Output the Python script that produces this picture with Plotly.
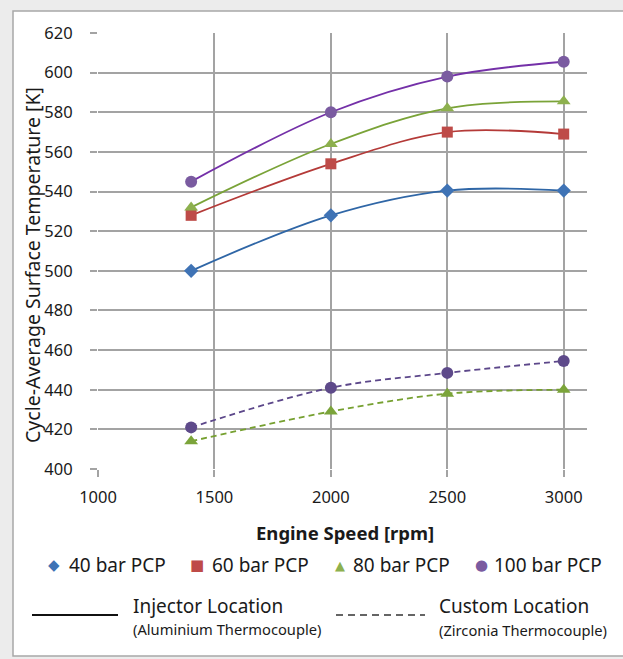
import plotly.graph_objects as go

speed = [1400, 2000, 2500, 3000]

inj_40 = [500, 528, 540.5, 540.5]
inj_60 = [528, 554, 570, 569]
inj_80 = [532, 564, 582, 585.5]
inj_100 = [545, 580, 598, 605.5]

cus_80 = [414, 429, 438, 440]
cus_100 = [421, 441, 448.5, 454.5]

legend_labels = ["40 bar PCP", "60 bar PCP", "80 bar PCP", "100 bar PCP"]
x_ticks = [1000, 1500, 2000, 2500, 3000]
y_ticks = list(range(400, 621, 20))

FONT = "Noto Sans"

fig = go.Figure()

def add(y, line_col, mk_col, symbol, size, dash="solid"):
    fig.add_trace(go.Scatter(
        x=speed, y=y, mode="lines+markers",
        line=dict(color=line_col, width=1.8, shape="spline", smoothing=1.0, dash=dash),
        marker=dict(color=mk_col, symbol=symbol, size=size, line=dict(width=0)),
        showlegend=False, hoverinfo="x+y"))

add(inj_40, "#2F66A6", "#3F73B5", "diamond", 11)
add(inj_60, "#B43A38", "#BE4B48", "square", 11)
add(inj_80, "#7AA338", "#8DB04E", "triangle-up", 12)
add(inj_100, "#7430A8", "#7A5BA0", "circle", 12)
add(cus_80, "#76A030", "#7BA43A", "triangle-up", 12, dash="6px,4px")
add(cus_100, "#5C478A", "#5E4A8A", "circle", 12, dash="6px,4px")

L, R, T, B = 98, 36, 33, 190
W, H = 623, 659
pw, ph = W - L - R, H - T - B

def px(x):
    return (x - L) / pw

def py(y):
    return (H - B - y) / ph

grid = "#a3a3a3"
fig.update_xaxes(range=[1000, 3100], tickvals=x_ticks, showgrid=True, gridcolor=grid,
                 gridwidth=2, ticks="outside", ticklen=7, tickcolor=grid, tickwidth=2,
                 showline=False, zeroline=False, ticklabelstandoff=6,
                 tickfont=dict(family=FONT, size=16.5, color="#1a1a1a"))
fig.update_yaxes(range=[400, 620], tickvals=y_ticks, showgrid=True, gridcolor=grid,
                 gridwidth=2, ticks="outside", ticklen=7, tickcolor=grid, tickwidth=2,
                 showline=False, zeroline=False, ticklabelstandoff=14,
                 tickfont=dict(family=FONT, size=16.5, color="#1a1a1a"))

shapes = [
    dict(type="rect", xref="paper", yref="paper", x0=px(13), x1=px(640), y0=py(656), y1=py(11),
         line=dict(color="#a8a8a8", width=1.5), fillcolor="white", layer="below"),
    dict(type="line", xref="paper", yref="paper", x0=px(32), x1=px(118), y0=py(615), y1=py(615),
         line=dict(color="#111111", width=2)),
    dict(type="line", xref="paper", yref="paper", x0=px(336), x1=px(425), y0=py(615), y1=py(615),
         line=dict(color="#333333", width=1.4, dash="7px,5px")),
]

ann = []
ann.append(dict(text="Cycle-Average Surface Temperature [K]", x=px(32), y=py(265), xref="paper", yref="paper",
                textangle=-90, showarrow=False, xanchor="center", yanchor="middle",
                font=dict(family=FONT, size=19.5, color="#1a1a1a")))
ann.append(dict(text="<b>Engine Speed [rpm]</b>", x=px(345), y=py(532), xref="paper", yref="paper",
                showarrow=False, xanchor="center", yanchor="middle",
                font=dict(family=FONT, size=18.5, color="#1a1a1a")))

glyphs = [("◆", "#3F73B5", 15, 54), ("■", "#BE4B48", 15, 197), ("▲", "#8DB04E", 13, 340), ("●", "#7A5BA0", 15, 481)]
text_x = [67, 210, 351, 492]
for (g, c, s, gx), lbl, tx in zip(glyphs, legend_labels, text_x):
    ann.append(dict(text=g, x=px(gx), y=py(565), xref="paper", yref="paper", showarrow=False,
                    xanchor="center", yanchor="middle", font=dict(family="DejaVu Sans", size=s, color=c)))
    ann.append(dict(text=lbl, x=px(tx), y=py(565), xref="paper", yref="paper", showarrow=False,
                    xanchor="left", yanchor="middle", font=dict(family=FONT, size=19, color="#1a1a1a")))

for txt, x, y, s in [("Injector Location", 131, 606, 19), ("(Aluminium Thermocouple)", 131, 629, 14.7),
                     ("Custom Location", 437, 606, 19), ("(Zirconia Thermocouple)", 437, 630, 14.7)]:
    ann.append(dict(text=txt, x=px(x), y=py(y), xref="paper", yref="paper", showarrow=False,
                    xanchor="left", yanchor="middle", font=dict(family=FONT, size=s, color="#1a1a1a")))

fig.update_layout(width=W, height=H, margin=dict(l=L, r=R, t=T, b=B, autoexpand=False),
                  paper_bgcolor="#ececec", plot_bgcolor="white",
                  shapes=shapes, annotations=ann, showlegend=False)

fig.write_html("out.html", config={"displayModeBar": False},
               post_script="document.body.style.margin='0px';")
